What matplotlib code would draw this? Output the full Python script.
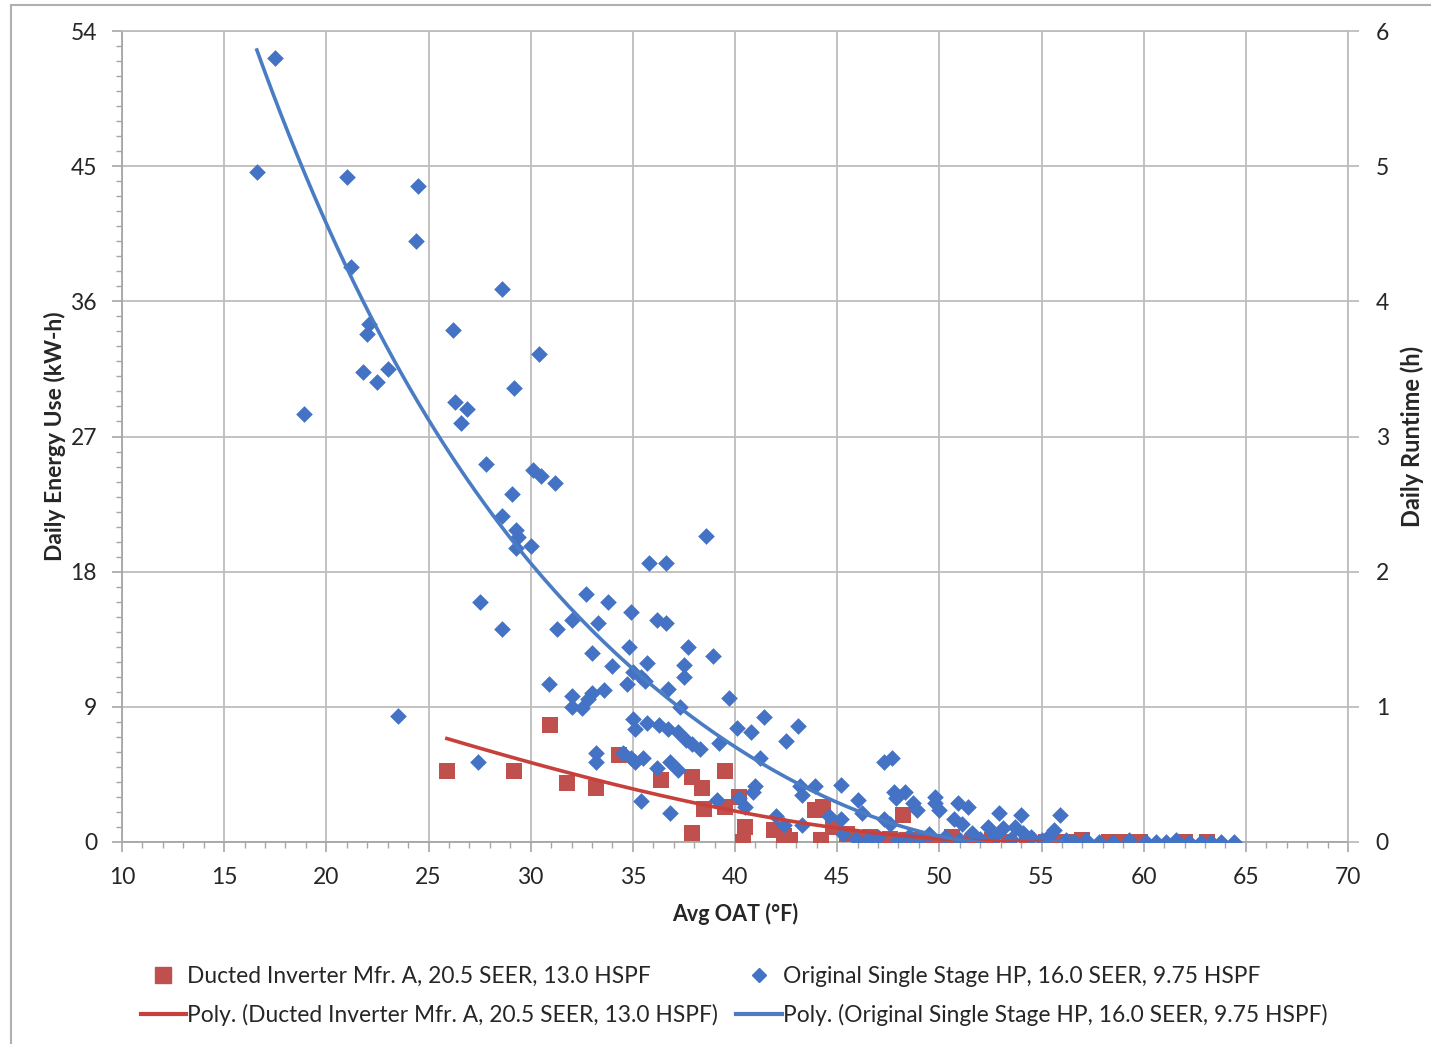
import numpy as np
import matplotlib
matplotlib.use("Agg")
import matplotlib.pyplot as plt
from matplotlib.lines import Line2D
from matplotlib.patches import Rectangle

plt.rcParams['font.family'] = ['Lato', 'DejaVu Sans']

# Original single stage heat pump (blue diamonds)
orig_oat = [
    16.6, 17.5, 18.9, 21.0, 21.2, 21.8, 22.0, 22.1, 22.5, 23.0, 23.5, 24.4, 24.5,
    26.2, 26.3, 26.6, 26.9, 27.4, 27.5, 27.8, 28.6, 28.6, 28.6, 29.1, 29.2, 29.3,
    29.4, 29.3, 30.0, 30.1, 30.4, 30.5, 30.9, 31.2, 31.3,
    32.0, 32.0, 32.0, 32.5, 32.7, 32.8, 33.0, 33.0, 33.2, 33.2, 33.3, 33.6, 33.8,
    34.0, 34.5, 34.7, 34.8, 34.9, 34.9, 35.0, 35.0, 35.1, 35.1, 35.4, 35.4, 35.5,
    35.6, 35.7, 35.7, 35.8, 36.2, 36.2, 36.3, 36.6, 36.6, 36.7, 36.7, 36.8, 36.8,
    37.2, 37.2, 37.3, 37.5, 37.5, 37.7, 37.6, 37.9, 38.3, 38.6, 38.9, 39.1, 39.2,
    39.7, 40.1, 40.2, 40.5, 40.8, 40.9, 41.0, 41.2, 41.4, 42.0, 42.4, 42.5, 43.1,
    43.2, 43.3, 43.3, 43.9, 44.6, 45.2, 45.2, 45.3, 46.0, 46.2, 47.3, 47.7, 47.3,
    47.6, 47.8, 47.9, 48.3, 48.7, 48.9, 49.8, 49.8, 50.0, 50.7, 50.9, 51.1, 51.4,
    52.4, 52.9, 53.1, 53.7, 54.0, 54.1, 55.6, 55.9,
    45.9, 46.5, 47.0, 48.0, 48.5, 49.0, 49.5, 50.3, 51.0, 51.6, 52.0, 52.7, 53.5,
    54.5, 55.0, 55.3, 56.2, 56.6, 57.2, 57.8, 58.5, 59.3, 60.1, 60.6, 61.1, 61.6,
    62.2, 62.8, 63.3, 63.8, 64.4,
]
orig_kwh = [
    44.6, 52.2, 28.5, 44.3, 38.3, 31.3, 33.8, 34.5, 30.6, 31.5, 8.4, 40.0, 43.7,
    34.1, 29.3, 27.9, 28.8, 5.3, 16.0, 25.2, 36.8, 21.7, 14.2, 23.2, 30.2, 20.8,
    20.3, 19.6, 19.7, 24.8, 32.5, 24.4, 10.5, 23.9, 14.2,
    14.8, 9.7, 9.0, 8.9, 16.5, 9.5, 12.6, 9.9, 5.9, 5.3, 14.6, 10.1, 16.0,
    11.7, 5.9, 10.5, 13.0, 15.3, 5.6, 11.3, 8.2, 7.5, 5.3, 11.0, 2.7, 5.6,
    10.7, 11.9, 7.9, 18.6, 14.8, 4.9, 7.8, 18.6, 14.6, 10.2, 7.5, 5.3, 1.9,
    7.3, 4.8, 9.0, 11.8, 11.0, 13.0, 6.8, 6.5, 6.2, 20.4, 12.4, 2.8, 6.6,
    9.6, 7.6, 2.9, 2.3, 7.3, 3.3, 3.7, 5.6, 8.3, 1.7, 1.1, 6.7, 7.7,
    3.7, 3.1, 1.1, 3.7, 1.7, 3.8, 1.5, 0.5, 2.8, 1.9, 5.3, 5.6, 1.5,
    1.2, 3.3, 2.9, 3.3, 2.6, 2.1, 3.0, 2.6, 2.1, 1.5, 2.6, 1.2, 2.3,
    1.0, 1.9, 0.9, 1.0, 1.8, 0.6, 0.8, 1.8,
    0.2, 0.1, 0.3, 0.1, 0.4, 0.2, 0.5, 0.3, 0.1, 0.6, 0.2, 0.4, 0.2,
    0.3, 0.1, 0.3, 0.1, 0.0, 0.1, 0.0, 0.0, 0.1, 0.0, 0.0, 0.0, 0.1,
    0.0, 0.0, 0.0, 0.0, 0.0,
]

# Ducted inverter (red squares)
inv_oat = [
    25.9, 29.2, 30.95, 31.8, 33.2, 34.3, 36.4, 37.9, 37.9, 38.4, 38.5, 39.5, 39.5,
    40.2, 40.5, 40.4, 41.9, 42.4, 42.7, 43.9, 44.3, 44.2, 44.8, 45.5, 46.1, 46.6,
    47.1, 47.6, 48.2, 48.4, 49.2, 49.9, 50.6, 51.6, 52.6, 53.4, 54.3, 55.2, 55.9,
    56.5, 57.0, 58.3, 58.8, 59.3, 59.8, 62.0, 63.1,
]
inv_kwh = [
    4.7, 4.7, 7.8, 3.9, 3.6, 5.8, 4.1, 4.3, 0.6, 3.6, 2.2, 4.7, 2.3,
    3.0, 1.0, 0.0, 0.8, 0.4, 0.1, 2.1, 2.3, 0.1, 1.0, 0.5, 0.1, 0.3,
    0.0, 0.2, 1.8, 0.1, 0.2, 0.0, 0.3, 0.0, 0.1, 0.0, 0.1, 0.0, 0.0,
    0.0, 0.1, 0.0, 0.0, 0.0, 0.0, 0.0, 0.0,
]

# poly trendlines, values
orig_trend_oat = [16.6, 18.9, 22.0, 25.3, 30.0, 35.0, 37.5, 40.0, 42.2, 45.0, 47.6, 50.0, 53.0, 56.0]
orig_trend_kwh = [52.4, 45.0, 36.0, 27.0, 18.0, 11.7, 9.0, 6.9, 4.5, 2.1, 1.1, 0.45, 0.1, 0.0]
inv_trend_oat = [25.9, 30.0, 35.0, 38.1, 40.0, 42.2, 45.0, 50.0, 55.0]
inv_trend_kwh = [6.9, 5.25, 3.6, 2.6, 2.0, 1.46, 1.0, 0.2, 0.0]

x_ticks = list(range(10, 71, 5))
left_ticks = list(range(0, 55, 9))
right_ticks = list(range(0, 7))

inv_label = "Ducted Inverter Mfr. A, 20.5 SEER, 13.0 HSPF"
orig_label = "Original Single Stage HP, 16.0 SEER, 9.75 HSPF"

red = '#C0504D'
red_line = '#C8403C'
blue = '#4472C4'
blue_line = '#4A7CC4'
grid_c = '#BDBDBD'
spine_c = '#A6A6A6'
txt = '#262626'

fig = plt.figure(figsize=(14.31, 10.44), dpi=100)
fig.patches.append(Rectangle((11 / 1431, -0.1), 1.2, 1.1 - 5 / 1044,
                             transform=fig.transFigure, fill=False,
                             edgecolor='#B0B0B0', lw=1.5))
ax = fig.add_axes([122 / 1431, 1 - 842 / 1044, 1226 / 1431, 811 / 1044])

ax.scatter(inv_oat, inv_kwh, marker='s', s=140, color=red, zorder=3, linewidths=0)
ax.scatter(orig_oat, orig_kwh, marker='D', s=72, color=blue, zorder=4, linewidths=0)

# smooth polynomial through the read trendline values
ci = np.polyfit(inv_trend_oat, inv_trend_kwh, 3)
xi = np.linspace(min(inv_trend_oat), max(inv_trend_oat), 200)
ax.plot(xi, np.polyval(ci, xi), color=red_line, lw=2.6, zorder=5)
co = np.polyfit(orig_trend_oat, orig_trend_kwh, 4)
xo = np.linspace(min(orig_trend_oat), max(orig_trend_oat), 200)
ax.plot(xo, np.polyval(co, xo), color=blue_line, lw=2.6, zorder=5)

ax.set_xlim(10, 70)
ax.set_ylim(0, 54)
ax.set_xticks(x_ticks)
ax.set_yticks(left_ticks)
ax.set_xticks(np.arange(10, 71, 1), minor=True)
ax.set_yticks(np.arange(0, 55, 1), minor=True)
ax.grid(True, which='major', color=grid_c, lw=1.3, zorder=0)
ax.set_axisbelow(True)
for s in ax.spines.values():
    s.set_color(grid_c)
    s.set_linewidth(1.3)
ax.spines['left'].set_color(spine_c)
ax.spines['bottom'].set_color(spine_c)
ax.tick_params(which='major', length=7, color=spine_c, width=1.2,
               labelsize=16.5, labelcolor=txt)
ax.tick_params(which='minor', length=4, color=spine_c, width=1.0)
ax.tick_params(axis='x', pad=11)
ax.tick_params(axis='y', pad=11)

ax2 = ax.twinx()
ax2.set_ylim(0, 6)
ax2.set_yticks(right_ticks)
for s in ax2.spines.values():
    s.set_visible(False)
ax2.tick_params(length=8, color=grid_c, width=1.3, labelsize=16.5,
                labelcolor=txt, pad=12)

ax.set_xlabel("Avg OAT (°F)", fontsize=15.5, fontweight='bold', color=txt, labelpad=11)
ax.set_ylabel("Daily Energy Use (kW-h)", fontsize=16.5, fontweight='bold', color=txt, labelpad=3)
ax2.set_ylabel("Daily Runtime (h)", fontsize=17, fontweight='bold', color=txt, labelpad=8)

handles = [
    Line2D([], [], marker='s', ls='none', color=red, markersize=11),
    Line2D([], [], color=red_line, lw=3),
    Line2D([], [], marker='D', ls='none', color=blue, markersize=7.5),
    Line2D([], [], color=blue_line, lw=3),
]
labels = [inv_label, "Poly. (" + inv_label + ")", orig_label, "Poly. (" + orig_label + ")"]
fig.legend(handles, labels, ncol=2, loc='center',
           bbox_to_anchor=(734 / 1431, 1 - 996 / 1044), frameon=False,
           fontsize=16.4, handlelength=2.0, handletextpad=0.05,
           columnspacing=0.8, labelspacing=0.75, labelcolor=txt)

fig.savefig("out.png", dpi=100)
